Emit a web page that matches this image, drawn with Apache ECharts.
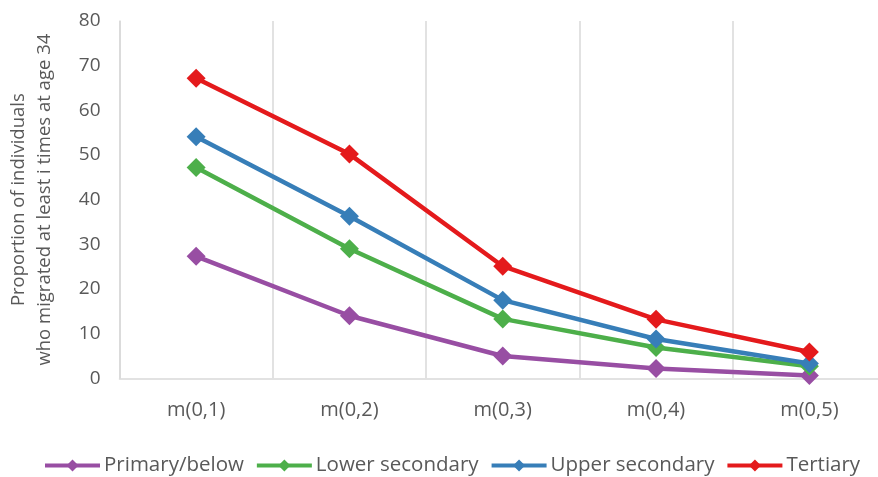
<!DOCTYPE html>
<html>
<head>
<meta charset="utf-8">
<script src="https://cdn.jsdelivr.net/npm/echarts@6/dist/echarts.min.js"></script>
<style>
  html, body { margin: 0; padding: 0; background: #fff; }
  #chart { width: 878px; height: 477px; }
</style>
</head>
<body>
<div id="chart"></div>
<script>
// Categories: migration count thresholds
var categories = ['m(0,1)', 'm(0,2)', 'm(0,3)', 'm(0,4)', 'm(0,5)'];

// Share of individuals (%) by education level
var primaryBelow   = [27.3, 14.0, 5.0, 2.2, 0.6];
var lowerSecondary = [47.2, 29.0, 13.3, 6.9, 2.7];
var upperSecondary = [54.1, 36.3, 17.5, 8.8, 3.3];
var tertiary       = [67.2, 50.2, 25.1, 13.2, 5.9];

var seriesNames  = ['Primary/below', 'Lower secondary', 'Upper secondary', 'Tertiary'];
var seriesColors = ['#984EA3', '#4DAF4A', '#377EB8', '#E41A1C'];
var seriesValues = [primaryBelow, lowerSecondary, upperSecondary, tertiary];

var yTitle = 'Proportion of individuals\nwho migrated at least i times at age 34';

var FONT = '"Open Sans", sans-serif';
var TEXT = '#595959';
var GRID = '#d9d9d9';

var chart = echarts.init(document.getElementById('chart'), null, { renderer: 'canvas' });

chart.setOption({
  animation: false,
  backgroundColor: '#ffffff',
  grid: {
    left: 119.5, right: -8, top: 21, bottom: 98.7,
    containLabel: false,
    outerBoundsMode: 'none'
  },
  legend: {
    left: 38,
    top: 450,
    itemWidth: 55,
    itemHeight: 15,
    itemGap: 11,
    lineStyle: { width: 4 },
    textStyle: { color: TEXT, fontFamily: FONT, fontSize: 20.5, padding: [0, 0, 0, -1] },
    data: seriesNames
  },
  xAxis: {
    type: 'category',
    data: categories,
    boundaryGap: true,
    axisLine: { show: true, lineStyle: { color: GRID, width: 1.5 } },
    axisTick: { show: false },
    splitLine: { show: true, lineStyle: { color: GRID, width: 1.5 } },
    axisLabel: { color: TEXT, fontFamily: FONT, fontSize: 20, margin: 22 }
  },
  yAxis: {
    type: 'value',
    min: 0,
    max: 80,
    interval: 10,
    name: yTitle,
    nameLocation: 'middle',
    nameRotate: 90,
    nameGap: 62,
    nameTextStyle: { color: TEXT, fontFamily: FONT, fontSize: 18.5, lineHeight: 26, align: 'center' },
    axisLine: { show: true, lineStyle: { color: GRID, width: 1.5 } },
    axisTick: { show: false },
    splitLine: { show: false },
    axisLabel: { color: TEXT, fontFamily: FONT, fontSize: 19, margin: 19 }
  },
  series: seriesNames.map(function (name, i) {
    return {
      name: name,
      type: 'line',
      data: seriesValues[i],
      symbol: 'diamond',
      symbolSize: 19,
      color: seriesColors[i],
      lineStyle: { width: 4.5, color: seriesColors[i] },
      itemStyle: { color: seriesColors[i] }
    };
  })
});
</script>
</body>
</html>
